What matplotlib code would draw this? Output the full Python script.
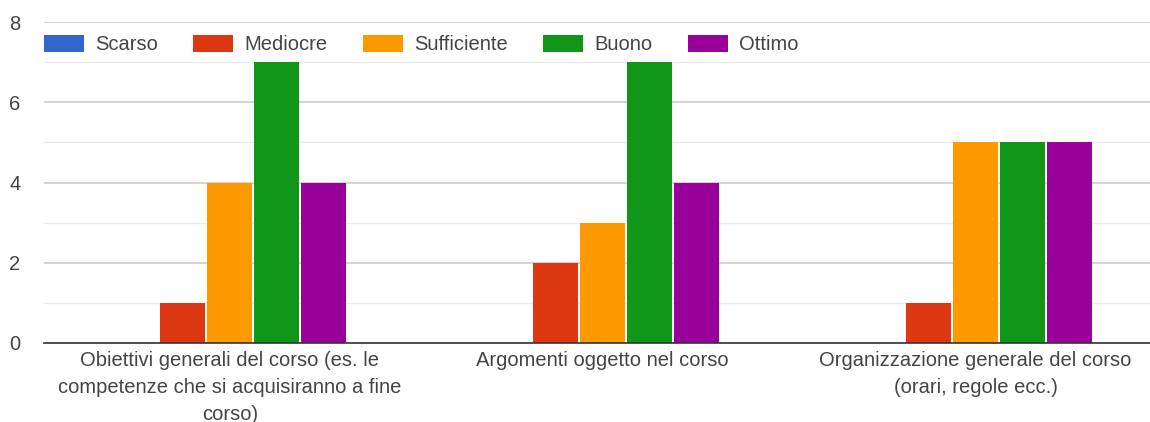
import matplotlib
matplotlib.use("Agg")
import matplotlib.pyplot as plt
import numpy as np

categories = [
    "Obiettivi generali del corso (es. le\ncompetenze che si acquisiranno a fine\ncorso)",
    "Argomenti oggetto nel corso",
    "Organizzazione generale del corso\n(orari, regole ecc.)",
]
series_names = ["Scarso", "Mediocre", "Sufficiente", "Buono", "Ottimo"]
scarso = [0, 0, 0]
mediocre = [1, 2, 1]
sufficiente = [4, 3, 5]
buono = [7, 7, 5]
ottimo = [4, 4, 5]
series_values = [scarso, mediocre, sufficiente, buono, ottimo]
colors = ["#3366cc", "#dc3912", "#ff9900", "#109618", "#990099"]
y_ticks = [0, 2, 4, 6, 8]

plt.rcParams['font.family'] = ['Arial', 'Liberation Sans', 'DejaVu Sans']

FS = 14.5
fig = plt.figure(figsize=(11.5, 4.22), dpi=100)
ax = fig.add_axes([43.5/1150, 1-343/422, (1162-43.5)/1150, (343-22)/422])

x = np.arange(len(categories))
step = 0.126
width = 0.121
for i, (name, vals, c) in enumerate(zip(series_names, series_values, colors)):
    ax.bar(x + (i - 2) * step, vals, width=width, color=c, label=name, zorder=3)

ax.set_xlim(-0.5, 2.5)
ax.set_ylim(0, 8)
ax.set_yticks(y_ticks)
ax.set_yticklabels([str(v) for v in y_ticks], color="#444444", fontsize=FS)
ax.set_yticks([1, 3, 5, 7], minor=True)
ax.tick_params(axis='y', which='both', length=0, pad=16.5)
ax.grid(axis='y', which='major', color="#cccccc", linewidth=1.2, zorder=0)
ax.grid(axis='y', which='minor', color="#ebebeb", linewidth=1.0, zorder=0)
ax.set_xticks(x)
ax.set_xticklabels(categories, color="#444444", fontsize=FS, linespacing=1.55)
ax.tick_params(axis='x', length=0, pad=5.5)
for s in ['top', 'right', 'left']:
    ax.spines[s].set_visible(False)
ax.spines['bottom'].set_color("#333333")
ax.spines['bottom'].set_linewidth(1.2)
ax.spines['bottom'].set_zorder(4)

leg = ax.legend(loc='center left', bbox_to_anchor=(0.0, (343-44.5)/321), ncol=5, frameon=False,
                fontsize=FS, handlelength=2.0, handleheight=0.95, columnspacing=1.75,
                handletextpad=0.55, borderaxespad=0, borderpad=0)
for t in leg.get_texts():
    t.set_color("#444444")

fig.savefig("out.png", dpi=100)
